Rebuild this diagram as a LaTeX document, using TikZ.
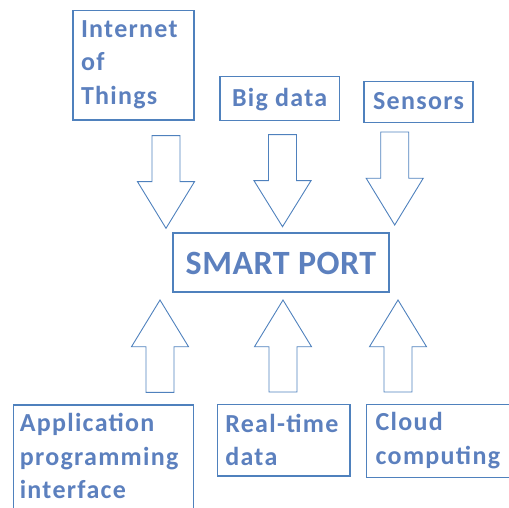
\documentclass[tikz,border=0pt]{standalone}
\usepackage{fontspec}
\setmainfont{Carlito}
\newfontfamily\labelfont{Carlito}[LetterSpace=5]
\newfontfamily\titlefont{Carlito}[LetterSpace=1.5]

\definecolor{portline}{RGB}{79,129,189}
\definecolor{porttext}{RGB}{92,128,190}

\tikzset{
    box/.style={draw=portline, line width=1.1pt, text=porttext,
        anchor=north west, outer sep=0pt, inner ysep=0pt,
        font=\labelfont\bfseries\fontsize{26}{33.5}\selectfont},
    multibox/.style={box, align=left},
    blockarrow/.style={draw=portline, line width=0.9pt, line join=miter}
}

% block arrow: x centre, base, neck, tip
\newcommand{\fatarrow}[4]{%
    \draw[blockarrow] (#1-14,#2) -- (#1+14,#2) -- (#1+14,#3) -- (#1+28.5,#3)
        -- (#1,#4) -- (#1-28.5,#3) -- (#1-14,#3) -- cycle;}

\begin{document}
\begin{tikzpicture}[x=1pt, y=-1pt]

\useasboundingbox (0,0) rectangle (509,508);

% Top boxes
\node[multibox, inner xsep=8pt, text width=105pt,
    text height=26.8pt, text depth=82.7pt] (iot) at (73,10.5)
    {Internet\\of\\Things};
\node[box, minimum width=119.3pt, text height=30pt, text depth=14pt]
    (bigdata) at (220,76.7) {Big data};
\node[box, minimum width=109pt, text height=27.6pt, text depth=13pt]
    (sensors) at (364,81.7) {Sensors};

% Centre box
\node[box, minimum width=216pt, text height=41pt, text depth=18pt,
    font=\titlefont\bfseries\fontsize{34}{40}\selectfont]
    (port) at (173,233) {SMART PORT};

% Bottom boxes
\node[multibox, inner xsep=6.5pt, text width=167pt,
    text height=26.7pt, text depth=98.3pt] (api) at (13.3,405)
    {Application\\programming\\interface};
\node[multibox, inner xsep=8pt, text width=116.7pt,
    text height=28pt, text depth=43.7pt] (realtime) at (217.3,404.3)
    {Real-time\\data};
\node[multibox, inner xsep=9pt, text width=145pt,
    text height=26.4pt, text depth=47pt] (cloud) at (366.7,404.3)
    {Cloud\\computing};

% Arrows into the port
\fatarrow{166}{135.7}{181.7}{228.3}
\fatarrow{282.5}{134.7}{180.7}{226.7}
\fatarrow{394.7}{132}{178.3}{225}

% Arrows up from the bottom boxes
\fatarrow{160}{392.3}{346.7}{300}
\fatarrow{283}{392}{346.7}{300}
\fatarrow{398}{392}{346.7}{300}

\end{tikzpicture}
\end{document}
